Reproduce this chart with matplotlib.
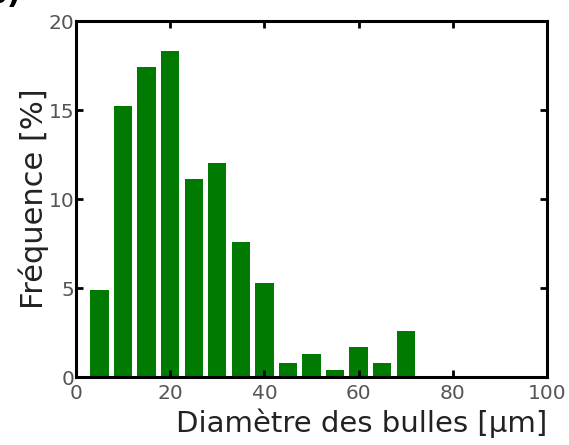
import matplotlib
matplotlib.use("Agg")
import matplotlib.pyplot as plt

diam = [5, 10, 15, 20, 25, 30, 35, 40, 45, 50, 55, 60, 65, 70]
freq = [4.9, 15.2, 17.4, 18.3, 11.1, 12.0, 7.6, 5.3, 0.8, 1.3, 0.4, 1.7, 0.8, 2.6]

fig = plt.figure(figsize=(5.69, 4.45), dpi=100)
ax = fig.add_axes([0.1336, 0.1528, 0.8277, 0.8])

ax.bar(diam, freq, width=3.9, color='#007a00')

ax.set_xlim(0, 100)
ax.set_ylim(0, 20)
ax.set_xticks([0, 20, 40, 60, 80, 100])
ax.set_yticks([0, 5, 10, 15, 20])
ax.tick_params(direction='in', length=5, width=2, top=True, right=True,
               labelsize=14.5, labelcolor='#555555', pad=1)
ax.tick_params(axis='x', pad=5)
for s in ax.spines.values():
    s.set_linewidth(2.2)

ax.set_xlabel('Diamètre des bulles [µm]', fontsize=21, color='#222222',
              loc='right', labelpad=4)
ax.set_ylabel('Fréquence [%]', fontsize=22, color='#222222', labelpad=0)

fig.text(0.038, 1.012, 'b)', fontsize=22, fontweight='bold', ha='right', va='center')

fig.savefig('out.png', dpi=100)
